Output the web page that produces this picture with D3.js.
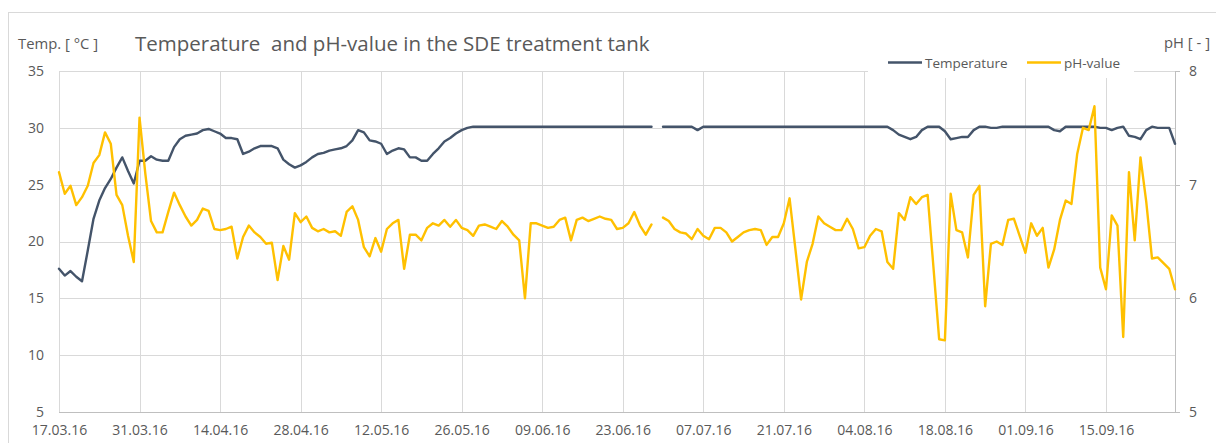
<!DOCTYPE html>
<html>
<head>
<meta charset="utf-8">
<script src="https://cdn.jsdelivr.net/npm/d3@7"></script>
<style>
  html, body { margin: 0; padding: 0; background: #ffffff; }
  svg { display: block; }
  text { font-family: "Open Sans", "Noto Sans", sans-serif; fill: #595959; }
</style>
</head>
<body>
<svg id="chart" width="1216" height="443"></svg>
<script>
// Daily readings from the SDE treatment tank, starting 17.03.16
const startDate = "17.03.16";

// Temperature [°C], one value per day (null = no reading)
const temperature = [
  17.6,17.0,17.4,16.9,16.5,19.2,22.0,23.6,24.7,25.5,
  26.5,27.4,26.2,25.1,27.1,27.1,27.5,27.2,27.1,27.1,
  28.3,29.0,29.3,29.4,29.5,29.8,29.9,29.7,29.5,29.1,
  29.1,29.0,27.7,27.9,28.2,28.4,28.4,28.4,28.2,27.2,
  26.8,26.5,26.7,27.0,27.4,27.7,27.8,28.0,28.1,28.2,
  28.4,28.9,29.8,29.6,28.9,28.8,28.6,27.7,28.0,28.2,
  28.1,27.4,27.4,27.1,27.1,27.7,28.2,28.8,29.1,29.5,
  29.8,30.0,30.1,30.1,30.1,30.1,30.1,30.1,30.1,30.1,
  30.1,30.1,30.1,30.1,30.1,30.1,30.1,30.1,30.1,30.1,
  30.1,30.1,30.1,30.1,30.1,30.1,30.1,30.1,30.1,30.1,
  30.1,30.1,30.1,30.1,null,30.1,30.1,30.1,30.1,30.1,
  30.1,29.8,30.1,30.1,30.1,30.1,30.1,30.1,30.1,30.1,
  30.1,30.1,30.1,30.1,30.1,30.1,30.1,30.1,30.1,30.1,
  30.1,30.1,30.1,30.1,30.1,30.1,30.1,30.1,30.1,30.1,
  30.1,30.1,30.1,30.1,30.1,29.8,29.4,29.2,29.0,29.2,
  29.8,30.1,30.1,30.1,29.7,29.0,29.1,29.2,29.2,29.8,
  30.1,30.1,30.0,30.0,30.1,30.1,30.1,30.1,30.1,30.1,
  30.1,30.1,30.1,29.8,29.7,30.1,30.1,30.1,30.1,30.1,
  30.1,30.0,30.0,29.8,30.0,30.1,29.3,29.2,29.0,29.8,
  30.1,30.0,30.0,30.0,28.6
];

// pH value [-], one value per day (null = no reading)
const phValue = [
  7.11,6.92,6.99,6.82,6.89,6.99,7.19,7.26,7.46,7.36,
  6.91,6.82,6.55,6.32,7.59,7.10,6.68,6.58,6.58,6.76,
  6.93,6.82,6.72,6.64,6.69,6.79,6.77,6.61,6.60,6.61,
  6.63,6.35,6.54,6.64,6.58,6.54,6.48,6.49,6.16,6.46,
  6.34,6.75,6.67,6.72,6.62,6.59,6.61,6.58,6.59,6.55,
  6.76,6.81,6.69,6.45,6.37,6.53,6.41,6.61,6.66,6.69,
  6.26,6.56,6.56,6.51,6.62,6.66,6.64,6.69,6.63,6.69,
  6.62,6.60,6.55,6.64,6.65,6.63,6.61,6.68,6.63,6.56,
  6.51,6.00,6.66,6.66,6.64,6.62,6.63,6.69,6.71,6.51,
  6.69,6.71,6.68,6.70,6.72,6.70,6.69,6.61,6.62,6.66,
  6.76,6.64,6.56,6.65,null,6.71,6.68,6.61,6.58,6.57,
  6.52,6.61,6.55,6.52,6.62,6.62,6.58,6.50,6.54,6.58,
  6.60,6.61,6.60,6.47,6.54,6.54,6.66,6.88,6.44,5.99,
  6.32,6.48,6.72,6.66,6.63,6.60,6.60,6.70,6.61,6.44,
  6.45,6.55,6.61,6.59,6.32,6.26,6.75,6.69,6.89,6.83,
  6.89,6.91,6.28,5.64,5.63,6.92,6.60,6.58,6.36,6.91,
  6.99,5.93,6.48,6.50,6.47,6.69,6.70,6.55,6.40,6.66,
  6.55,6.62,6.27,6.43,6.69,6.86,6.83,7.27,7.50,7.48,
  7.69,6.27,6.08,6.73,6.64,5.66,7.11,6.51,7.24,6.85,
  6.35,6.36,6.31,6.26,6.08
];

const xTickLabels = ["17.03.16","31.03.16","14.04.16","28.04.16","12.05.16","26.05.16",
  "09.06.16","23.06.16","07.07.16","21.07.16","04.08.16","18.08.16","01.09.16","15.09.16"];
const endDate = "27.09.16";
const tempTicks = [5, 10, 15, 20, 25, 30, 35];
const phTicks = [5, 6, 7, 8];

const parse = d3.utcParse("%d.%m.%y");
const fmt = d3.utcFormat("%d.%m.%y");
const t0 = parse(startDate);
const days = temperature.map((_, i) => d3.utcDay.offset(t0, i));

const svg = d3.select("#chart");
const m = { left: 59, right: 1175, top: 71, bottom: 412 };

const x = d3.scaleUtc().domain([t0, parse(endDate)]).range([m.left, m.right]);
const yT = d3.scaleLinear().domain([5, 35]).range([m.bottom, m.top]);
const yP = d3.scaleLinear().domain([5, 8]).range([m.bottom, m.top]);

// chart frame
svg.append("rect")
  .attr("x", 8.5).attr("y", 12.5).attr("width", 1230).attr("height", 460)
  .attr("fill", "#ffffff").attr("stroke", "#d9d9d9").attr("stroke-width", 1);

// horizontal gridlines + left labels
const gy = svg.append("g").call(
  d3.axisLeft(yT).tickValues(tempTicks).tickSize(-(m.right - m.left)).tickPadding(15)
).attr("transform", `translate(${m.left},0)`);
gy.select(".domain").remove();
gy.selectAll(".tick line").attr("stroke", "#d9d9d9").attr("shape-rendering", "crispEdges");
gy.selectAll(".tick text").attr("font-size", 14).attr("fill", "#595959")
  .style("font-family", "'Open Sans', sans-serif");

// vertical gridlines + date labels
const tickDates = xTickLabels.map(parse);
const gx = svg.append("g").attr("transform", `translate(0,${m.bottom})`).call(
  d3.axisBottom(x).tickValues(tickDates).tickFormat(fmt).tickSize(-(m.bottom - m.top)).tickPadding(13)
);
gx.select(".domain").remove();
gx.selectAll(".tick line").attr("stroke", "#d9d9d9").attr("shape-rendering", "crispEdges");
gx.selectAll(".tick text").attr("font-size", 14).attr("fill", "#595959")
  .style("font-family", "'Open Sans', sans-serif");

// bottom axis line
svg.append("line")
  .attr("x1", m.left).attr("x2", m.right).attr("y1", m.bottom).attr("y2", m.bottom)
  .attr("stroke", "#bfbfbf").attr("shape-rendering", "crispEdges");

// right pH axis
const gr = svg.append("g").attr("transform", `translate(${m.right},0)`).call(
  d3.axisRight(yP).tickValues(phTicks).tickFormat(d3.format("d")).tickSize(5).tickPadding(9)
);
gr.select(".domain").attr("stroke", "#bfbfbf").attr("shape-rendering", "crispEdges");
gr.selectAll(".tick line").attr("stroke", "#bfbfbf").attr("shape-rendering", "crispEdges");
gr.selectAll(".tick text").attr("font-size", 14).attr("fill", "#595959")
  .style("font-family", "'Open Sans', sans-serif");

// series
const tempLine = d3.line()
  .defined(d => d.v != null)
  .x(d => x(d.t)).y(d => yT(d.v));
const phLine = d3.line()
  .defined(d => d.v != null)
  .x(d => x(d.t)).y(d => yP(d.v));

svg.append("path")
  .datum(temperature.map((v, i) => ({ t: days[i], v })))
  .attr("d", tempLine)
  .attr("fill", "none").attr("stroke", "#44546A").attr("stroke-width", 2.4)
  .attr("stroke-linejoin", "round").attr("stroke-linecap", "round");

svg.append("path")
  .datum(phValue.map((v, i) => ({ t: days[i], v })))
  .attr("d", phLine)
  .attr("fill", "none").attr("stroke", "#FFC000").attr("stroke-width", 2.4)
  .attr("stroke-linejoin", "round").attr("stroke-linecap", "round");

// legend
const legend = svg.append("g");
legend.append("rect").attr("x", 868).attr("y", 50).attr("width", 266).attr("height", 28)
  .attr("fill", "#ffffff");
const legendItems = [
  { name: "Temperature", color: "#44546A", x: 888 },
  { name: "pH-value", color: "#FFC000", x: 1027 }
];
legendItems.forEach(it => {
  legend.append("line").attr("x1", it.x).attr("x2", it.x + 34).attr("y1", 62.5).attr("y2", 62.5)
    .attr("stroke", it.color).attr("stroke-width", 2.4);
  legend.append("text").attr("x", it.x + 37).attr("y", 67.5).attr("font-size", 13.5)
    .text(it.name);
});

// titles
svg.append("text").attr("x", 135).attr("y", 51).attr("font-size", 20.5)
  .text("Temperature  and pH-value in the SDE treatment tank").attr("xml:space", "preserve")
  .style("white-space", "pre");
svg.append("text").attr("x", 18).attr("y", 49).attr("font-size", 14.8).text("Temp. [ °C ]");
svg.append("text").attr("x", 1210).attr("y", 48).attr("font-size", 14.8)
  .attr("text-anchor", "end").text("pH [ - ]");
</script>
</body>
</html>
